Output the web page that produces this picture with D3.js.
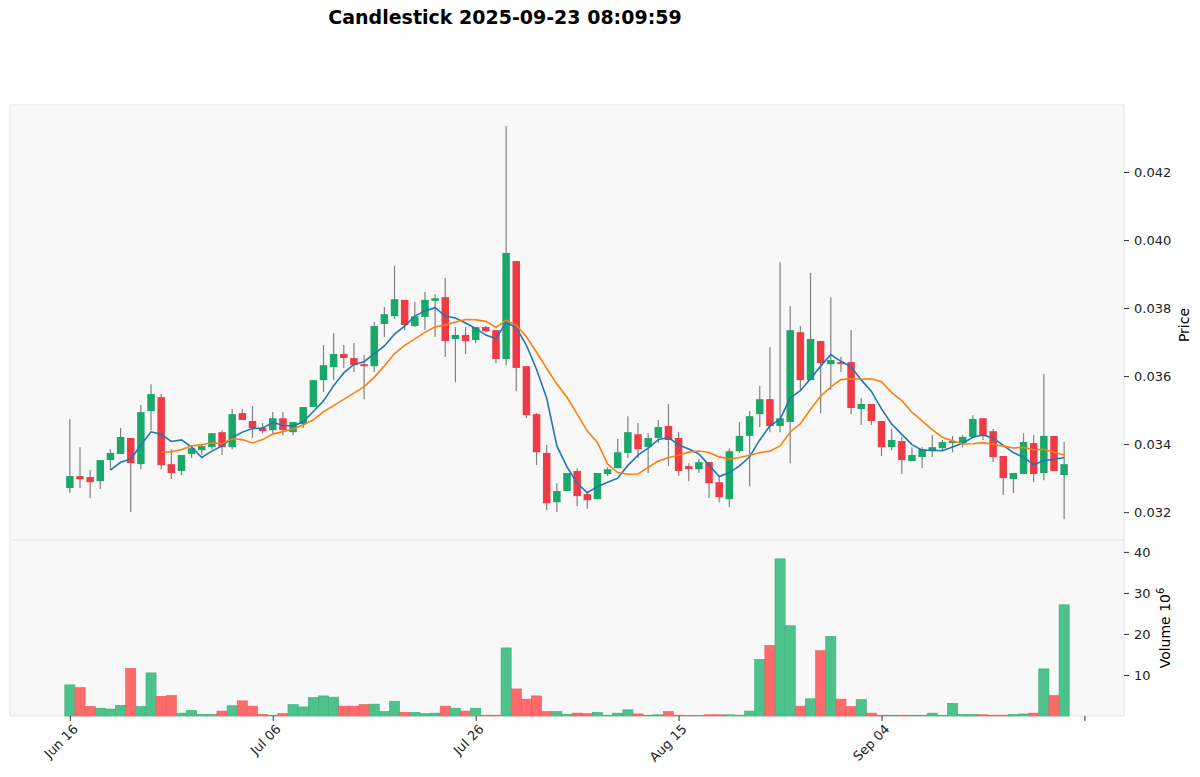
<!DOCTYPE html>
<html>
<head>
<meta charset="utf-8">
<script src="https://cdn.jsdelivr.net/npm/d3@7"></script>
<style>
  body { margin: 0; background: #fff; font-family: "DejaVu Sans", sans-serif; }
</style>
</head>
<body>
<svg id="chart"></svg>
<script>
// daily candles from 2025-06-16
const startDate = new Date(2025, 5, 16);
const opens  = [0.03271,0.03306,0.03303,0.03291,0.03353,0.03371,0.03418,0.03341,0.03497,0.03538,
                0.03341,0.03321,0.03371,0.03382,0.03391,0.03435,0.03391,0.03491,0.03468,0.03447,
                0.03441,0.03476,0.03435,0.03459,0.03509,0.03588,0.03626,0.03665,0.03653,0.03635,
                0.03629,0.03753,0.03776,0.03824,0.03747,0.03774,0.03821,0.03832,0.03709,0.03721,
                0.03706,0.03744,0.03735,0.03650,0.03938,0.03629,0.03488,0.03374,0.03229,0.03262,
                0.03321,0.03253,0.03238,0.03312,0.03329,0.03374,0.03429,0.03391,0.03418,0.03453,
                0.03418,0.03335,0.03326,0.03347,0.03288,0.03238,0.03379,0.03424,0.03488,0.03532,
                0.03453,0.03465,0.03729,0.03588,0.03703,0.03635,0.03641,0.03641,0.03503,0.03518,
                0.03468,0.03391,0.03409,0.03350,0.03362,0.03379,0.03388,0.03403,0.03403,0.03421,
                0.03476,0.03438,0.03365,0.03297,0.03312,0.03403,0.03315,0.03424,0.03309];
const highs  = [0.03474,0.03391,0.03324,0.03353,0.03385,0.03447,0.03418,0.03515,0.03576,0.03547,
                0.03385,0.03368,0.03397,0.03397,0.03432,0.03441,0.03503,0.03503,0.03512,0.03462,
                0.03494,0.03494,0.03465,0.03509,0.03588,0.03691,0.03726,0.03691,0.03697,0.03662,
                0.03759,0.03803,0.03924,0.03824,0.03818,0.03847,0.03841,0.03888,0.03744,0.03744,
                0.03744,0.03747,0.03735,0.04335,0.03938,0.03629,0.03491,0.03397,0.03285,0.03315,
                0.03329,0.03262,0.03315,0.03332,0.03415,0.03482,0.03462,0.03432,0.03471,0.03518,
                0.03435,0.03344,0.03356,0.03347,0.03306,0.03388,0.03465,0.03497,0.03571,0.03685,
                0.03935,0.03806,0.03747,0.03903,0.03703,0.03832,0.03656,0.03735,0.03535,0.03518,
                0.03468,0.03444,0.03421,0.03391,0.03391,0.03426,0.03412,0.03424,0.03426,0.03485,
                0.03476,0.03444,0.03365,0.03315,0.03432,0.03426,0.03606,0.03424,0.03406];
const lows   = [0.03256,0.03271,0.03241,0.03268,0.03324,0.03371,0.03200,0.03326,0.03441,0.03326,
                0.03297,0.03309,0.03359,0.03368,0.03385,0.03368,0.03385,0.03471,0.03418,0.03432,
                0.03432,0.03426,0.03426,0.03447,0.03509,0.03553,0.03588,0.03624,0.03612,0.03532,
                0.03612,0.03715,0.03768,0.03735,0.03744,0.03735,0.03715,0.03656,0.03582,0.03665,
                0.03697,0.03729,0.03638,0.03632,0.03556,0.03476,0.03338,0.03206,0.03200,0.03262,
                0.03218,0.03209,0.03238,0.03306,0.03329,0.03359,0.03359,0.03315,0.03403,0.03335,
                0.03306,0.03291,0.03315,0.03241,0.03229,0.03215,0.03374,0.03276,0.03450,0.03435,
                0.03435,0.03344,0.03559,0.03588,0.03491,0.03559,0.03612,0.03488,0.03456,0.03456,
                0.03365,0.03382,0.03312,0.03350,0.03329,0.03362,0.03382,0.03376,0.03391,0.03421,
                0.03412,0.03347,0.03250,0.03256,0.03312,0.03288,0.03294,0.03321,0.03179];
const closes = [0.03306,0.03297,0.03288,0.03353,0.03374,0.03421,0.03344,0.03494,0.03547,0.03338,
                0.03315,0.03368,0.03388,0.03394,0.03432,0.03391,0.03488,0.03471,0.03447,0.03438,
                0.03476,0.03441,0.03465,0.03509,0.03588,0.03632,0.03665,0.03653,0.03632,0.03629,
                0.03747,0.03782,0.03826,0.03750,0.03776,0.03824,0.03829,0.03703,0.03721,0.03703,
                0.03744,0.03732,0.03650,0.03962,0.03624,0.03485,0.03376,0.03226,0.03262,0.03315,
                0.03247,0.03235,0.03315,0.03326,0.03376,0.03435,0.03385,0.03418,0.03450,0.03412,
                0.03321,0.03326,0.03347,0.03285,0.03244,0.03379,0.03424,0.03482,0.03532,0.03453,
                0.03476,0.03735,0.03588,0.03709,0.03638,0.03647,0.03635,0.03506,0.03518,0.03468,
                0.03391,0.03412,0.03353,0.03368,0.03385,0.03391,0.03406,0.03409,0.03421,0.03474,
                0.03424,0.03362,0.03300,0.03315,0.03406,0.03312,0.03424,0.03321,0.03341];
// volume in millions
const volumes = [7.6,6.9,2.3,1.9,1.7,2.6,11.6,2.3,10.5,4.8,
                 5.0,0.7,1.4,0.4,0.4,1.2,2.5,3.7,2.4,0.4,
                 0.2,0.6,2.8,2.2,4.5,4.9,4.6,2.4,2.4,2.8,
                 2.9,1.1,3.6,0.9,0.9,0.6,0.7,2.4,1.9,1.2,
                 1.9,0.2,0.2,16.6,6.6,4.1,4.9,1.1,1.1,0.4,
                 0.7,0.6,0.9,0.2,0.7,1.5,0.5,0.2,0.3,1.1,
                 0.2,0.1,0.1,0.3,0.3,0.3,0.2,1.2,13.8,17.2,
                 38.3,22.0,2.4,4.2,15.9,19.4,4.1,2.3,4.0,0.7,
                 0.2,0.2,0.2,0.2,0.2,0.7,0.1,3.1,0.4,0.4,
                 0.3,0.2,0.2,0.4,0.5,0.7,11.5,5.0,27.1];
const priceTicks = [0.032, 0.034, 0.036, 0.038, 0.040, 0.042];
const volumeTicks = [10, 20, 30, 40];
const dateTicks = [0, 20, 40, 60, 80, 100];
const mavPeriods = [5, 10];
const mavColors = ['#1f77b4', '#ff7f0e'];

const width = 1200, height = 777;
const left = 10, right = 1124, priceTop = 105, priceBottom = 540, volBottom = 716;
const upColor = '#1aa86a', downColor = '#ee3b46';
const upVol = '#4cc38a', downVol = '#ff6b6b';
const fmtDate = d3.timeFormat('%b %d');

const data = opens.map((o, i) => ({
    i: i, o: o, h: highs[i], l: lows[i], c: closes[i], v: volumes[i],
    up: closes[i] >= o
}));

const svg = d3.select('#chart').attr('width', width).attr('height', height);

const x = d3.scaleLinear().domain([-5.9, 103.9]).range([left, right]);
const y = d3.scaleLinear().domain([0.03118, 0.04397]).range([priceBottom, priceTop]);
const yv = d3.scaleLinear().domain([0, 42.9]).range([volBottom, priceBottom]);

// panels
svg.append('rect').attr('x', left).attr('y', priceTop).attr('width', right - left)
    .attr('height', priceBottom - priceTop).attr('fill', '#f8f8f8').attr('stroke', '#e4e4e4');
svg.append('rect').attr('x', left).attr('y', priceBottom).attr('width', right - left)
    .attr('height', volBottom - priceBottom).attr('fill', '#f8f8f8').attr('stroke', '#e4e4e4');

svg.append('text').attr('x', 505).attr('y', 24).attr('text-anchor', 'middle')
    .style('font-size', '19px').style('font-weight', 'bold').text('Candlestick 2025-09-23 08:09:59');

// candles
const cw = 7.5;
const candles = svg.append('g');
candles.selectAll('line').data(data).join('line')
    .attr('x1', d => x(d.i)).attr('x2', d => x(d.i))
    .attr('y1', d => y(d.h)).attr('y2', d => y(d.l))
    .attr('stroke', '#808080').attr('stroke-width', 1.2);
candles.selectAll('rect').data(data).join('rect')
    .attr('x', d => x(d.i) - cw / 2).attr('width', cw)
    .attr('y', d => y(Math.max(d.o, d.c)))
    .attr('height', d => Math.max(1.5, Math.abs(y(d.o) - y(d.c))))
    .attr('fill', d => d.up ? upColor : downColor);

// moving averages
mavPeriods.forEach((p, k) => {
    const pts = data.slice(p - 1).map(d => ({
        i: d.i, m: d3.mean(closes.slice(d.i - p + 1, d.i + 1))
    }));
    svg.append('path').datum(pts)
        .attr('fill', 'none').attr('stroke', mavColors[k]).attr('stroke-width', 1.6)
        .attr('d', d3.line().x(d => x(d.i)).y(d => y(d.m)));
});

// volume
const bw = (x(1) - x(0));
svg.append('g').selectAll('rect').data(data).join('rect')
    .attr('x', d => x(d.i) - bw / 2).attr('width', bw)
    .attr('y', d => yv(d.v)).attr('height', d => volBottom - yv(d.v))
    .attr('fill', d => d.up ? upVol : downVol)
    .attr('stroke', d => d.up ? '#3cae78' : '#e85a5a').attr('stroke-width', 0.6);

// axes
const py = svg.append('g').attr('transform', `translate(${right},0)`)
    .call(d3.axisRight(y).tickValues(priceTicks).tickFormat(d3.format('.3f')).tickSize(5).tickPadding(5));
const vy = svg.append('g').attr('transform', `translate(${right},0)`)
    .call(d3.axisRight(yv).tickValues(volumeTicks).tickSize(5).tickPadding(5));
const xa = svg.append('g').attr('transform', `translate(0,${volBottom})`)
    .call(d3.axisBottom(x).tickValues(dateTicks).tickSize(5)
        .tickFormat(i => i < volumes.length ? fmtDate(d3.timeDay.offset(startDate, i)) : ''));
[py, vy, xa].forEach(g => {
    g.select('.domain').remove();
    g.selectAll('text').style('font-size', '13px').style('font-family', '"DejaVu Sans", sans-serif').attr('fill', '#222');
    g.selectAll('line').attr('stroke', '#333');
});
xa.selectAll('text').attr('text-anchor', 'end').attr('dx', '-0.3em').attr('dy', '0.6em')
    .attr('transform', 'rotate(-45)');

svg.append('text').attr('transform', 'translate(1189,325) rotate(-90)').attr('text-anchor', 'middle')
    .style('font-size', '14px').text('Price');
const vl = svg.append('text').attr('transform', 'translate(1170,628) rotate(-90)').attr('text-anchor', 'middle')
    .style('font-size', '14px');
vl.append('tspan').text('Volume  10');
vl.append('tspan').attr('dy', '-6').style('font-size', '10px').text('6');
</script>
</body>
</html>
